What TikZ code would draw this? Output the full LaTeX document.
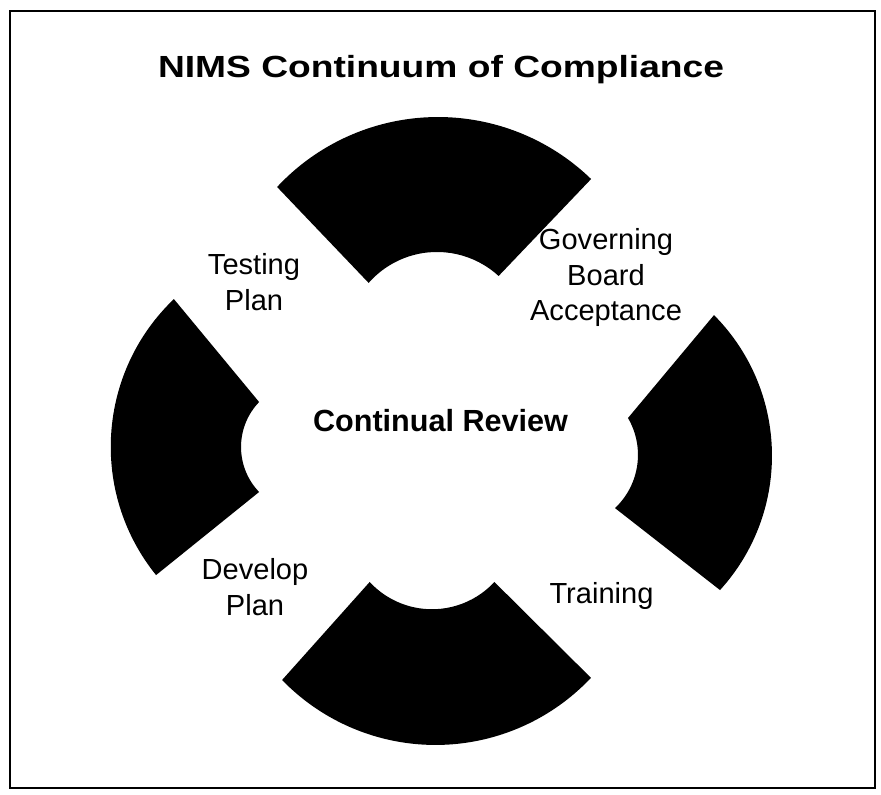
\documentclass[tikz,border=0pt]{standalone}
\usepackage{fontspec}
\setmainfont{Liberation Sans}
\usetikzlibrary{positioning}
\tikzset{lbl/.style={align=center,font=\fontsize{24.8}{30.5}\selectfont},
         hdr/.style={font=\fontsize{26.1}{31}\selectfont\bfseries}}

\begin{document}
\begin{tikzpicture}[x=0.03cm, y=0.03cm]
        \useasboundingbox (0,0) rectangle (881,794);
        \draw[line width=1.8pt] (10,6) rectangle (875,783);
        \node[hdr, anchor=base] (N) at (441,716.5) {\scalebox{1.216}[1]{NIMS Continuum of Compliance}};
        \fill (277.1,607.0) arc[start angle=137, end angle=45.9, radius=220] -- (498.6,518.0) arc[start angle=47.4, end angle=138.7, radius=91] -- cycle;
        \fill (173.9,494.9) arc[start angle=133.7, end angle=218.9, radius=204.3] -- (259.1,302.0) arc[start angle=223.8, end angle=136.2, radius=65] -- cycle;
        \fill (282.1,114.0) arc[start angle=224.1, end angle=316.7, radius=213.6] -- (494.4,212) arc[start angle=317.2, end angle=222.8, radius=85] -- cycle;
        \fill (714.0,478.9) arc[start angle=44.8, end angle=-42.3, radius=199.6] -- (615.0,285.9) arc[start angle=-46.7, end angle=30.3, radius=73.1] -- cycle;
        \node[hdr, anchor=base] (CR) at (440.5,362) {Continual Review};
        \node[lbl] (TP) at (254,512) {Testing\\Plan};
        \node[lbl] (GB) at (606,516.5) {Governing\\Board\\Acceptance};
        \node[lbl] (DP) at (255,207) {Develop\\Plan};
        \node[lbl, anchor=base] (TR) at (601.5,190) {Training};
\end{tikzpicture}
\end{document}
